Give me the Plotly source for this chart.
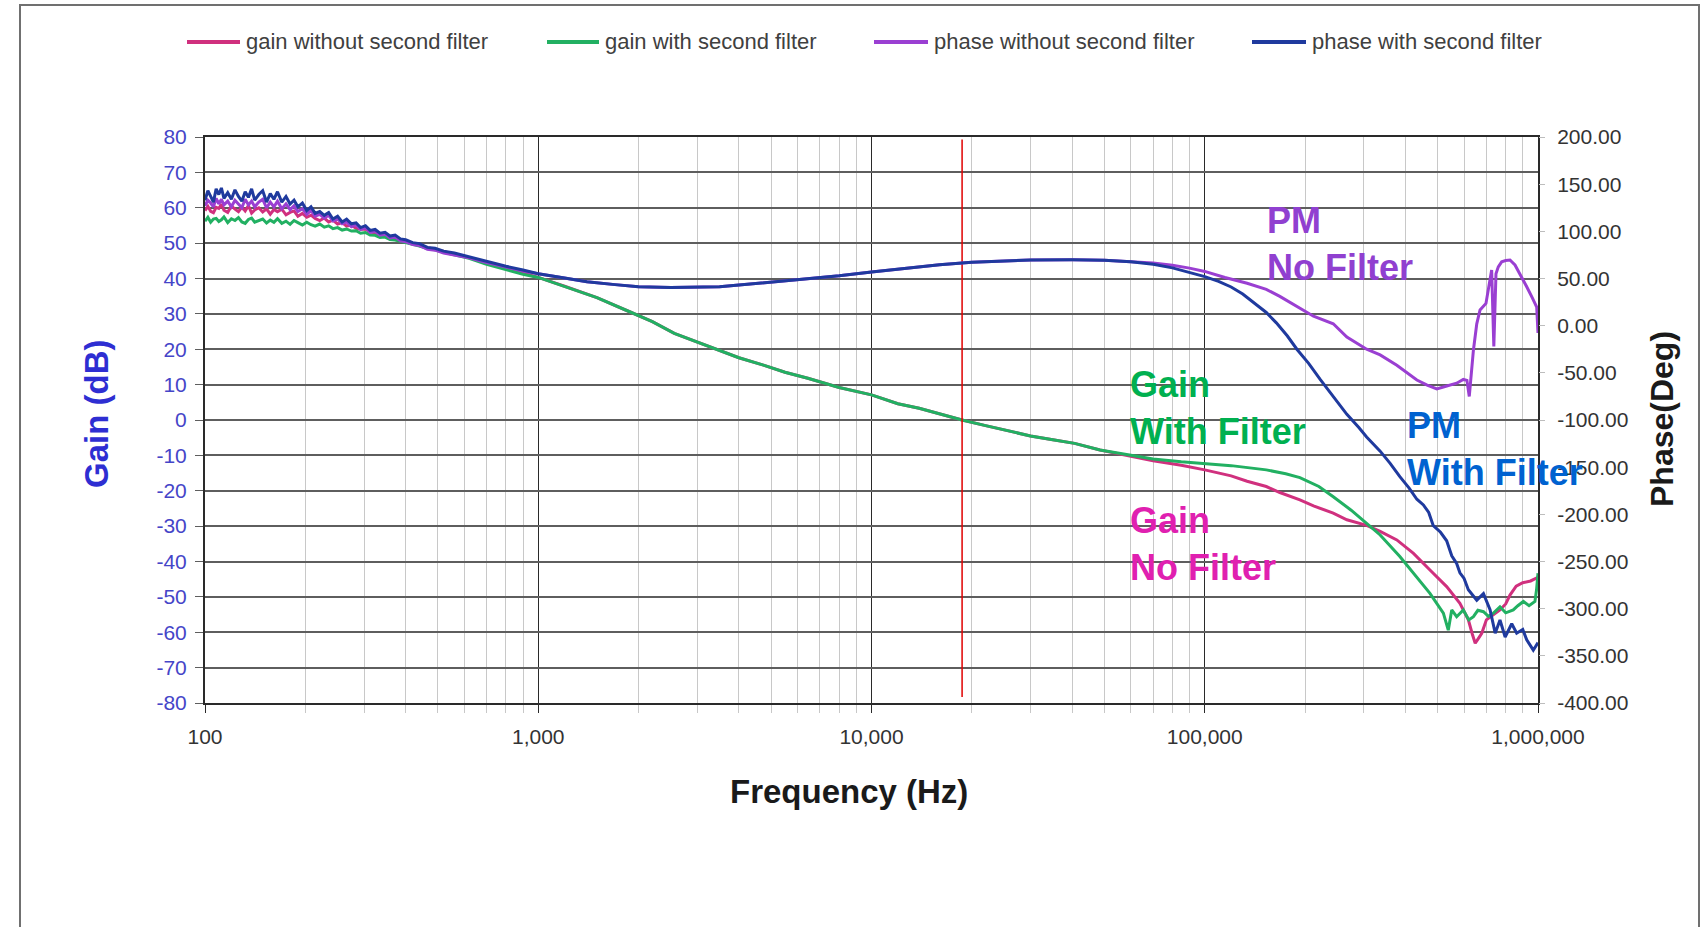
import plotly.graph_objects as go

# ---------------- data ----------------
f_low = [100, 102, 104, 106, 108, 110, 112, 114, 117, 120,
         123, 126, 129, 132, 135, 138, 141, 145, 149, 153,
         157, 161, 165, 170, 175, 180, 185, 190, 196, 202,
         208, 214, 221, 228, 235, 242, 250, 258, 266, 275,
         284, 293, 303, 313, 324, 335, 347, 359, 372, 386,
         400, 420, 440, 465, 490, 520, 560, 620, 700, 800,
         900]

gain_no_low = [59.2, 60.4, 59.0, 58.6, 60.1, 59.8, 61.0, 59.3, 58.7, 60.5,
               59.6, 58.9, 60.2, 59.1, 60.6, 58.5, 59.4, 60.0, 58.8, 59.7,
               58.2, 59.5, 58.9, 59.6, 58.0, 58.7, 59.1, 57.6, 58.4, 57.3,
               57.9, 57.0, 56.4, 57.1, 56.0, 56.5, 55.4, 55.8, 54.8, 55.1,
               54.2, 53.9, 54.0, 53.1, 52.9, 52.3, 52.0, 51.2, 51.3, 50.6,
               50.4, 49.8, 49.4, 48.7, 48.3, 47.6, 46.9, 45.9, 44.4, 42.9,
               41.6]
gain_with_low = [56.2, 57.3, 55.9, 56.8, 57.0, 56.1, 56.6, 57.4, 55.8, 56.9,
                 56.4, 57.2, 56.0, 55.6, 56.7, 57.1, 55.9, 56.3, 56.8, 55.7,
                 56.5, 55.9, 56.9, 55.6, 56.2, 55.3, 56.4, 55.8, 55.1, 55.9,
                 55.2, 54.8, 55.4, 54.5, 54.9, 54.1, 54.4, 53.7, 54.0, 53.4,
                 53.5, 52.8, 53.0, 52.3, 52.2, 51.6, 51.7, 51.0, 50.9, 50.5,
                 50.2, 49.6, 49.2, 48.5, 48.1, 47.4, 46.7, 45.7, 44.0, 42.5,
                 41.2]
phase_with_low = [133, 143, 137, 131, 145, 139, 146, 135, 141, 134,
                  144, 137, 132, 142, 136, 145, 133, 139, 143, 131,
                  140, 134, 142, 131, 137, 129, 133, 126, 130, 122,
                  126, 119, 121, 117, 120, 113, 116, 110, 113, 108,
                  109, 104, 106, 101, 102, 98, 99, 95, 96, 92,
                  91, 88, 87, 83, 82, 79, 77, 73, 68, 63,
                  59]
phase_no_low = [127, 133, 130, 126, 135, 129, 134, 128, 132, 126,
                133, 129, 125, 134, 128, 132, 126, 131, 134, 125,
                131, 126, 132, 124, 129, 123, 127, 121, 124, 118,
                122, 116, 118, 114, 117, 111, 113, 108, 110, 105,
                107, 102, 104, 99, 100, 96, 97, 93, 94, 90,
                89, 86, 85, 81, 80, 77, 75, 72, 67, 62,
                58]

f_mid_gain = [1000, 1200, 1500, 1880, 2200, 2560, 3000, 3480, 4000, 4740, 5500, 6440, 8000, 10000, 12000, 13900,
              16000, 18700, 22000, 26000, 30000, 35000, 40700, 48500]
gain_mid = [40.3, 37.8, 34.6, 30.6, 27.8, 24.5, 22.0, 19.8, 17.6, 15.5, 13.5, 11.8, 9.2, 7.1, 4.6, 3.3,
            1.7, 0.0, -1.6, -3.2, -4.5, -5.6, -6.6, -8.5]

f_mid_phase = [1000, 1200, 1400, 1700, 2000, 2500, 3000, 3500, 4000, 5000, 6000, 7000, 8000, 10000, 13000, 16000,
               20000, 25000, 30000, 40000, 50000, 60000]
phase_mid = [55, 50.5, 46.5, 43.5, 41.2, 40.5, 40.5, 41.2, 43.0, 46.0, 48.8, 51.0, 53.0, 57.0, 61.3, 64.5,
             67.3, 68.8, 69.6, 69.8, 69.4, 67.8]

f_hi_gain_no = [60000, 70000, 85000, 100000, 120000, 134000, 153000, 168000, 193000, 212000, 243000, 267000,
                306000, 336000, 377000, 423000, 474000, 532000, 583000, 618000, 635000, 648000, 665000, 678000,
                700000, 735000, 769000, 800000, 824000, 860000, 900000, 950000, 1000000]
gain_no_hi = [-10.3, -11.5, -12.8, -14.1, -15.8, -17.3, -18.8, -20.5, -22.6, -24.3, -26.3, -28.2,
              -29.8, -31.5, -33.9, -37.7, -42.4, -47.1, -51.8, -56.5, -60.5, -63.1, -61.5, -60.3,
              -56.5, -55.0, -53.7, -52.0, -49.5, -47.0, -46.0, -45.5, -44.5]

f_hi_gain_with = [60000, 70000, 85000, 100000, 120000, 153000, 175000, 193000, 220000, 243000, 275000, 306000,
                  336000, 385000, 423000, 474000, 520000, 538000, 551000, 570000, 597000, 620000, 640000, 660000,
                  686000, 710000, 735000, 769000, 800000, 843000, 870000, 904000, 940000, 979000, 990000, 1000000]
gain_with_hi = [-10.0, -11.0, -11.8, -12.3, -12.9, -14.1, -15.2, -16.3, -18.8, -21.7, -25.5, -29.2,
                -32.5, -38.6, -43.3, -49.0, -54.6, -59.4, -53.7, -55.6, -53.7, -56.5, -55.6, -53.8,
                -54.2, -55.5, -54.6, -52.8, -54.5, -53.7, -52.5, -51.3, -52.5, -51.3, -48.0, -43.3]

f_hi_phase_no = [70000, 80000, 90000, 100000, 115000, 134000, 153000, 168000, 190000, 212000,
                 243000, 267000, 306000, 336000, 377000, 405000, 433000, 465000, 497000, 520000,
                 545000, 570000, 597000, 612000, 622000, 631000, 640000, 655000, 670000, 698000,
                 712000, 726000, 737000, 748000, 760000, 778000, 800000, 824000, 853000, 890000,
                 925000, 960000, 991000, 1000000]
phase_no_hi = [66.5, 64, 61, 57.5, 51, 45, 38.5, 31, 20, 10,
               2, -12, -25, -31, -42, -50, -57.6, -63, -67, -65,
               -63, -61, -57, -58, -75, -52, -26, 2, 16.6, 23.6,
               40, 59, -22, 55, 62.4, 67.7, 69, 69.6, 64.3, 53,
               41.3, 30, 19.8, -7.8]

f_hi_phase_with = [70000, 80000, 90000, 100000, 110000, 120000, 130000, 140000, 153000, 164000,
                   177000, 189000, 205000, 222000, 245000, 267000, 290000, 306000, 336000, 360000,
                   385000, 410000, 433000, 453000, 470000, 485000, 510000, 532000, 551000, 570000,
                   583000, 600000, 618000, 655000, 686000, 718000, 744000, 769000, 797000, 834000,
                   863000, 900000, 925000, 968000, 1000000]
phase_with_hi = [65, 61.3, 56.5, 52, 47, 41, 33.5, 25, 14, 3,
                 -11, -25, -40, -57, -77, -94, -108, -118, -133, -146,
                 -160, -172, -184, -190, -198, -212, -219, -228, -244, -252,
                 -262, -268, -280, -291, -284, -301, -326, -312, -330, -316,
                 -326, -322, -333, -344, -336]

crossover_hz = 18700
crossover_span = [79.3, -78.3]

series_names = ["gain without second filter", "gain with second filter",
                "phase without second filter", "phase with second filter"]
series_colors = ["#D0307E", "#22B062", "#9A3FD2", "#1F3A9E"]

gain_ticks = [80, 70, 60, 50, 40, 30, 20, 10, 0, -10, -20, -30, -40, -50, -60, -70, -80]
gain_ticktext = ["80", "70", "60", "50", "40", "30", "20", "10", "0", "-10", "-20", "-30", "-40",
                 "-50", "-60", "-70", "-80"]
phase_ticks = [200, 150, 100, 50, 0, -50, -100, -150, -200, -250, -300, -350, -400]
phase_ticktext = ["200.00", "150.00", "100.00", "50.00", "0.00", "-50.00", "-100.00", "-150.00",
                  "-200.00", "-250.00", "-300.00", "-350.00", "-400.00"]
freq_ticks = [100, 1000, 10000, 100000, 1000000]
freq_ticktext = ["100", "1,000", "10,000", "100,000", "1,000,000"]

# ---------------- layout helpers (pixel -> paper) ----------------
W, H = 1707, 927
L, R, T, B = 205, 169, 137, 224
PW, PH = W - L - R, H - T - B


def px(xp):
    return (xp - L) / PW


def py(yp):
    return (H - B - yp) / PH


fig = go.Figure()

series = [
    (f_low + f_mid_gain + f_hi_gain_no, gain_no_low + gain_mid + gain_no_hi, "y"),
    (f_low + f_mid_gain + f_hi_gain_with, gain_with_low + gain_mid + gain_with_hi, "y"),
    (f_low + f_mid_phase + f_hi_phase_no, phase_no_low + phase_mid + phase_no_hi, "y2"),
    (f_low + f_mid_phase + f_hi_phase_with, phase_with_low + phase_mid + phase_with_hi, "y2"),
]
for (xs, ys, ax), name, col in zip(series, series_names, series_colors):
    fig.add_trace(go.Scatter(x=xs, y=ys, yaxis=ax, mode="lines", name=name,
                             line=dict(color=col, width=3), showlegend=False))

fig.add_trace(go.Scatter(x=[crossover_hz, crossover_hz], y=crossover_span, mode="lines",
                         line=dict(color="#E00000", width=1.5), showlegend=False, name="crossover"))

tickfont = dict(family="Liberation Sans, Arial, sans-serif", size=21, color="#333333")

fig.update_layout(
    width=W, height=H,
    margin=dict(l=L, r=R, t=T, b=B),
    paper_bgcolor="white", plot_bgcolor="white",
    showlegend=False,
    xaxis=dict(type="log", range=[2, 6], tickmode="array", tickvals=freq_ticks, ticktext=freq_ticktext,
               showgrid=True, gridcolor="#2a2a2a", gridwidth=1,
               ticks="outside", ticklen=8, tickcolor="#2a2a2a", ticklabelstandoff=6,
               showline=True, linecolor="#2a2a2a", linewidth=2, mirror=True,
               tickfont=tickfont, zeroline=False,
               minor=dict(dtick="D1", showgrid=True, gridcolor="#c8c8c8", gridwidth=1,
                          ticks="outside", ticklen=8, tickcolor="#c8c8c8")),
    yaxis=dict(range=[-80, 80], tickmode="array", tickvals=gain_ticks, ticktext=gain_ticktext,
               showgrid=True, gridcolor="#5e5e5e", gridwidth=2, zeroline=False,
               ticks="outside", ticklen=8, tickcolor="#5e5e5e", ticklabelstandoff=4,
               showline=True, linecolor="#2a2a2a", linewidth=2, mirror=True,
               tickfont=dict(family="Liberation Sans, Arial, sans-serif", size=21, color="#4545C8")),
    yaxis2=dict(range=[-400, 200], overlaying="y", side="right", tickmode="array",
                tickvals=phase_ticks, ticktext=phase_ticktext, showgrid=False, zeroline=False,
                ticks="outside", ticklen=6, tickcolor="#bdbdbd", ticklabelstandoff=8,
                showline=False, tickfont=tickfont),
)

annotations = []
# axis titles
annotations.append(dict(text="<b>Gain (dB)</b>", x=px(96), y=py(414), xref="paper", yref="paper",
                        textangle=-90, showarrow=False, xanchor="center", yanchor="middle",
                        font=dict(family="Liberation Sans, Arial, sans-serif", size=33, color="#2E2ED2")))
annotations.append(dict(text="<b>Phase(Deg)</b>", x=px(1662), y=py(419), xref="paper", yref="paper",
                        textangle=-90, showarrow=False, xanchor="center", yanchor="middle",
                        font=dict(family="Liberation Sans, Arial, sans-serif", size=32, color="#1a1a1a")))
annotations.append(dict(text="<b>Frequency (Hz)</b>", x=px(849), y=py(791), xref="paper", yref="paper",
                        showarrow=False, xanchor="center", yanchor="middle",
                        font=dict(family="Liberation Sans, Arial, sans-serif", size=33, color="#1a1a1a")))

# in-plot labels
label_font = "Liberation Sans, Arial, sans-serif"
for txt, xl, yc, col in [("PM<br>No Filter", 1265, 244, "#9040D0"),
                         ("Gain<br>With Filter", 1128, 408, "#00B050"),
                         ("Gain<br>No Filter", 1128, 544, "#E020B0"),
                         ("PM<br>With Filter", 1405, 449, "#0062D0")]:
    annotations.append(dict(text="<b>" + txt + "</b>", x=px(xl), y=py(yc), xref="paper", yref="paper",
                            showarrow=False, xanchor="left", yanchor="middle", align="left",
                            font=dict(family=label_font, size=36, color=col)))

# legend (line swatch + text) across the top
legend_pos = [(187, 240, 244), (547, 599, 603), (874, 928, 932), (1252, 1306, 1310)]
shapes = []
for (x0, x1, xt), name, col in zip(legend_pos, series_names, series_colors):
    shapes.append(dict(type="line", xref="paper", yref="paper", x0=px(x0), x1=px(x1), y0=py(42), y1=py(42),
                       line=dict(color=col, width=4)))
    annotations.append(dict(text=name, x=px(xt), y=py(42), xref="paper", yref="paper", showarrow=False,
                            xanchor="left", yanchor="middle",
                            font=dict(family="Liberation Sans, Arial, sans-serif", size=22, color="#404040")))

# outer chart frame
shapes.append(dict(type="rect", xref="paper", yref="paper", x0=px(20), x1=px(1699), y0=py(940), y1=py(5),
                   line=dict(color="#707070", width=2), layer="below"))

fig.update_layout(annotations=annotations, shapes=shapes)

fig.write_html("out.html")
